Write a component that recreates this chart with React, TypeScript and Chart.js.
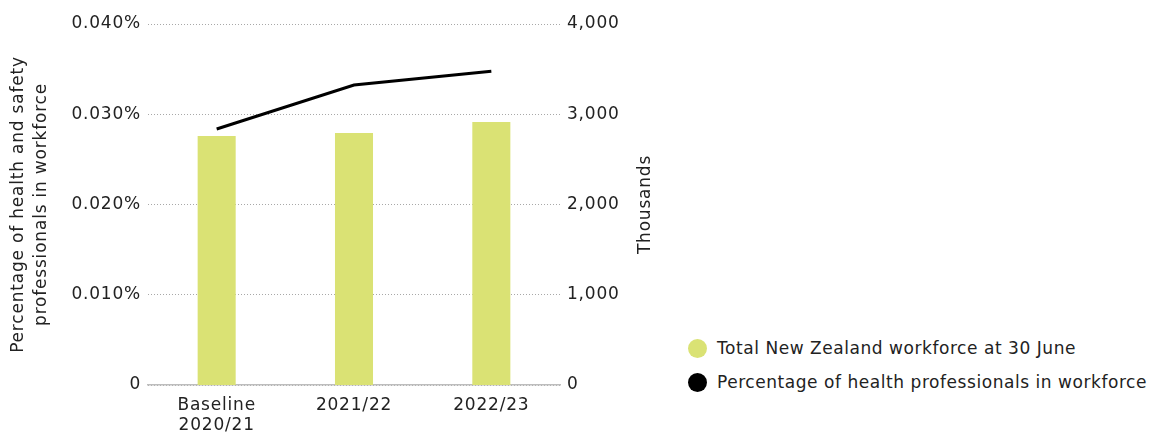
import React, { useEffect, useRef } from 'react';
import { Chart, registerables } from 'chart.js';

Chart.register(...registerables);

const categories: (string | string[])[] = [['Baseline', '2020/21'], '2021/22', '2022/23'];
const workforceThousands = [2759, 2792, 2914];
const healthPercent = [0.02837, 0.03324, 0.03476];
const seriesNames = ['Total New Zealand workforce at 30 June', 'Percentage of health professionals in workforce'];
const seriesColors = ['#dae274', '#000000'];
const leftTitle = ['Percentage of health and safety', 'professionals in workforce'];
const rightTitle = 'Thousands';

const FONT = "'DejaVu Sans', 'Noto Sans', sans-serif";
const TEXT = '#222222';
const SIZE = 17;
const SPACING = '0.8px';

const spacingPlugin = {
  id: 'spacingPlugin',
  beforeUpdate(chart: any) { chart.ctx.letterSpacing = SPACING; },
  beforeLayout(chart: any) { chart.ctx.letterSpacing = SPACING; },
  beforeDraw(chart: any) { chart.ctx.letterSpacing = SPACING; },
};

const rightTitlePlugin = {
  id: 'rightTitlePlugin',
  afterDraw(chart: any) {
    const { ctx, chartArea } = chart;
    const s = chart.scales.y1;
    ctx.save();
    ctx.letterSpacing = SPACING;
    ctx.translate(s.right - 34, (chartArea.top + chartArea.bottom) / 2);
    ctx.rotate(-Math.PI / 2);
    ctx.font = `${SIZE}px ${FONT}`;
    ctx.fillStyle = TEXT;
    ctx.textAlign = 'center';
    ctx.textBaseline = 'middle';
    ctx.fillText(rightTitle, 0, 0);
    ctx.restore();
  },
};

export default function App() {
  const ref = useRef<HTMLCanvasElement | null>(null);

  useEffect(() => {
    document.body.style.margin = '0';
    const canvas = ref.current;
    if (!canvas) return;
    const chart = new Chart(canvas, {
      type: 'bar',
      data: {
        labels: categories as any,
        datasets: [
          {
            type: 'line',
            label: seriesNames[1],
            data: healthPercent,
            yAxisID: 'y',
            borderColor: seriesColors[1],
            backgroundColor: seriesColors[1],
            borderWidth: 3,
            pointRadius: 0,
            tension: 0,
            order: 0,
          } as any,
          {
            type: 'bar',
            label: seriesNames[0],
            data: workforceThousands,
            yAxisID: 'y1',
            backgroundColor: seriesColors[0],
            barPercentage: 0.277,
            categoryPercentage: 1,
            order: 1,
          },
        ],
      },
      options: {
        responsive: false,
        animation: false,
        layout: { padding: { top: 24, left: 0, right: 0, bottom: 0 } },
        plugins: { legend: { display: false }, tooltip: { enabled: false } },
        scales: {
          x: {
            grid: { display: false },
            border: { display: true, color: '#bdbdbd', width: 1.5 },
            ticks: { color: TEXT, font: { family: FONT, size: SIZE, lineHeight: 1.15 }, padding: 3, maxRotation: 0 },
            afterFit: (s: any) => { s.height = 47; },
          },
          y: {
            position: 'left',
            min: 0,
            max: 0.04,
            ticks: {
              stepSize: 0.01,
              color: TEXT,
              font: { family: FONT, size: SIZE },
              padding: 7,
              callback: (v: any) => (Number(v) === 0 ? '0' : Number(v).toFixed(3) + '%'),
            },
            grid: { color: '#a8a8a8', lineWidth: 1, drawTicks: false },
            border: { display: false, dash: [1, 2] },
            title: {
              display: true,
              text: leftTitle,
              color: TEXT,
              font: { family: FONT, size: SIZE, lineHeight: 1.3 },
              padding: { top: 8, bottom: 0 },
            },
            afterFit: (s: any) => { s.width = 148; },
          },
          y1: {
            position: 'right',
            min: 0,
            max: 4000,
            ticks: {
              stepSize: 1000,
              color: TEXT,
              font: { family: FONT, size: SIZE },
              padding: 7,
              callback: (v: any) => Number(v).toLocaleString('en-US'),
            },
            grid: { display: false, drawTicks: false },
            border: { display: false },
            afterFit: (s: any) => { s.width = 120; },
          },
        },
      },
      plugins: [spacingPlugin, rightTitlePlugin],
    });
    return () => chart.destroy();
  }, []);

  return (
    <div style={{ position: 'relative', width: 1149, height: 432, fontFamily: FONT, color: TEXT }}>
      <canvas ref={ref} width={680} height={432} style={{ position: 'absolute', left: 0, top: 0, width: 680, height: 432 }} />
      <div style={{ position: 'absolute', left: 688, top: 331 }}>
        {seriesNames.map((name, i) => (
          <div key={name} style={{ display: 'flex', alignItems: 'center', height: 34, fontSize: SIZE, letterSpacing: '0.55px', whiteSpace: 'nowrap' }}>
            <span style={{ display: 'inline-block', width: 19, height: 19, borderRadius: '50%', background: seriesColors[i], marginRight: 10, flex: 'none' }} />
            <span>{name}</span>
          </div>
        ))}
      </div>
    </div>
  );
}
